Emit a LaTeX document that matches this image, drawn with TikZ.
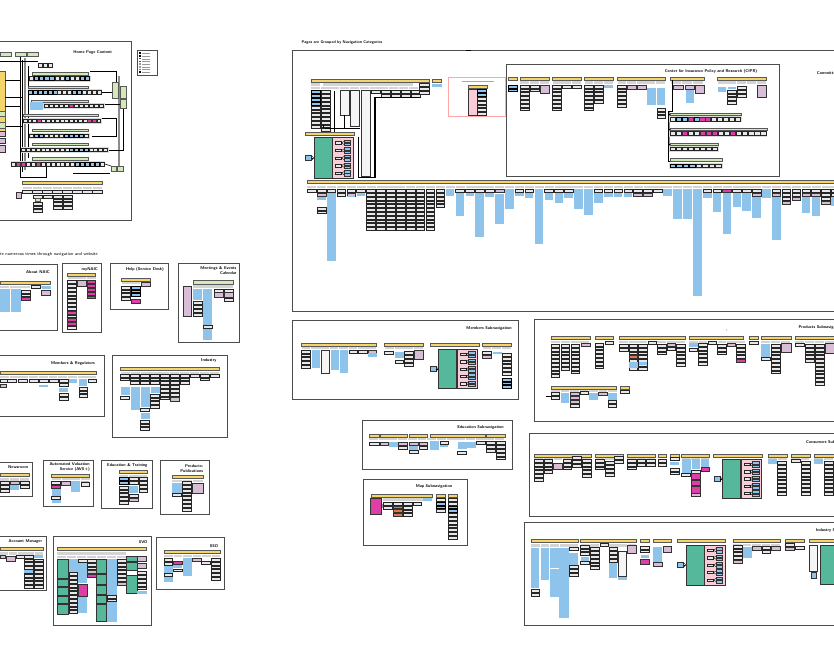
\documentclass[tikz,border=0pt]{standalone}
\usepackage{tikz}
\usetikzlibrary{calc}
\definecolor{sunny}{HTML}{F5D46A}
\definecolor{skyb}{HTML}{8EC3EB}
\definecolor{lilac}{HTML}{D7BDD6}
\definecolor{hotpk}{HTML}{DE3FA6}
\definecolor{leaf}{HTML}{D4E9B8}
\definecolor{teal1}{HTML}{55B89B}
\definecolor{rose}{HTML}{F8CDD7}
\definecolor{coral}{HTML}{E6734F}
\tikzset{
  panel/.style={draw=black!70, line width=0.6pt},
  ttl/.style={font=\fontsize{3.5}{4}\selectfont\sffamily\bfseries, inner sep=0pt, align=right},
  gbox/.style={draw=black!85, fill=black!9, line width=0.45pt},
  bcell/.style={fill=skyb},
  bsm/.style={draw=black!80, fill=skyb, line width=0.4pt},
  pbox/.style={draw=black!80, fill=lilac, line width=0.45pt},
  mbox/.style={draw=black!80, fill=hotpk, line width=0.45pt},
  obox/.style={draw=black!80, fill=coral, line width=0.45pt},
  wcol/.style={draw=black!80, fill=black!4, line width=0.45pt},
  sunbar/.style={draw=black!65, fill=sunny, line width=0.45pt},
  gnbar/.style={draw=black!65, fill=leaf, line width=0.4pt},
  hcell/.style={fill=black!17},
  tbox/.style={draw=black!80, fill=teal1, line width=0.5pt},
  pkbg/.style={draw=black!80, fill=rose, line width=0.5pt},
  cellg/.style={gbox},
  cellb/.style={bcell},
  cellm/.style={mbox},
  wire/.style={draw=black, line width=0.5pt},
}
% stack of n boxes: [style]{x}{y}{n}{w}
\newcommand{\stk}[5][gbox]{\foreach \k in {1,...,#4}{\draw[#1] ({#2},{#3+(\k-1)*3.8}) rectangle ++(#5,2.8);}}
\newcommand{\hdr}[4]{\foreach \k in {1,...,#3}{\fill[hcell] ({#1+(\k-1)*#4},{#2}) rectangle ++({#4-0.8},2.2);}}
\newcommand{\topbar}[3]{\draw[sunbar] (#1,#3) rectangle (#2,{#3+2.8});}
\newcommand{\cellrow}[4]{\edef\celllist{#4}\foreach \c [count=\k from 0] in \celllist {\draw[cell\c] ({#1+\k*#3},{#2}) rectangle ++({#3-0.9},3.6);}}
\newcommand{\navrow}[8]{%
  \fill[black!14] ({#4-0.8},{#6-0.8}) rectangle ({#5+0.5},{#6+5.2});
  \draw[gnbar] (#2,#1) rectangle (#3,{#1+2.2});
  \cellrow{#4}{#6}{#7}{#8}}
\newcommand{\tpgroup}[3]{%
  \draw[tbox] (#1,#2) rectangle ++(18,#3);
  \draw[pkbg] ({#1+18.6},#2) rectangle ++(20.5,#3);
  \foreach \k in {0,...,4}{
    \pgfmathsetmacro\py{#2+4+\k*(#3-8)/4.3}
    \draw[gbox] ({#1+21.5},\py) rectangle ++(6,2.4);
    \draw[bsm] ({#1+30},{\py-1.6}) rectangle ++(6.5,2.4);
    \draw[bsm] ({#1+30},{\py+1.6}) rectangle ++(6.5,2.4);
    \draw[line width=0.3pt] ({#1+27.5},{\py+1.2}) -- ({#1+30},{\py-0.4});
    \draw[line width=0.3pt] ({#1+27.5},{\py+1.2}) -- ({#1+30},{\py+2.8});}
  \draw[bsm] ({#1-8.5},{#2+#3/2-3}) rectangle ++(6,5.5);
  \draw[line width=0.4pt, ->] ({#1-2.5},{#2+#3/2}) -- (#1,{#2+#3/2});}

\begin{document}
\begin{tikzpicture}[x=0.03cm, y=-0.03cm]
  %%%%% START %%%%%
  \useasboundingbox (0,0) rectangle (834,653);
  \clip (0,0) rectangle (834,653);

  %%%%% HOME PAGE %%%%%
  \draw[panel] (-3,41.7) rectangle (131.7,220);
  \node[ttl, anchor=east] (home) at (112.3,52.3) {Home Page Content};
  \draw[panel, line width=0.4pt] (137.7,50.7) rectangle (157.7,75);
  \foreach \k/\c in {0/black,1/black,2/black!70,3/black!70,4/black!40,5/black!40,6/hotpk,7/black}{
    \fill[\c] (139.3,{52.5+\k*2.7}) rectangle ++(1.6,1.6);
    \draw[black!40, line width=0.2pt] (142,{53.3+\k*2.7}) -- ++(8,0);}

  \draw[gnbar] (0,52.7) rectangle (11.7,56);
  \draw[gnbar] (15,52.7) rectangle (26.7,56);
  \draw[gnbar] (27.3,52.7) rectangle (38.3,56);
  \cellrow{38.3}{63.5}{5}{g,g,g}
  \draw[sunbar] (-2,71.7) rectangle (5,133.3);

  \draw[black!45, line width=1pt] (25,58) -- (25,170);
  \draw[black!45, line width=1pt] (119,76) -- (119,170);
  \draw[wire] (0,61.7) -- (38,61.7);
  \draw[wire] (20,57) -- (20,177) -- (46.7,177) -- (46.7,166.7);
  \draw[wire] (22.7,60) -- (22.7,172);
  \draw[wire, line width=0.35pt] (28,66) -- (28,158);
  \draw[wire] (5,80) -- (20,80);
  \draw[wire] (5,97) -- (22.7,97);
  \draw[wire] (5,106) -- (20,106);
  \draw[wire] (5,126) -- (22.7,126);
  \draw[wire] (90,71.7) -- (116.7,71.7) -- (116.7,82.7);
  \draw[wire] (101.7,92) -- (112.7,92);
  \draw[wire] (101.7,104) -- (120.7,104);
  \draw[wire] (100,118) -- (116.7,118) -- (116.7,136.7) -- (92,136.7);
  \draw[wire] (108.3,150) -- (123.3,150) -- (123.3,108.3);
  \draw[wire] (105,164) -- (111,166);
  \draw[wire] (73,173.3) -- (110,173.3);

  \navrow{72.7}{32.3}{88.3}{29.3}{90.5}{76.7}{5.1}{g,b,b,b,b,g,g,b,g,g,b,b}
  \navrow{86}{28.3}{88.3}{28.3}{101.8}{90.3}{4.9}{b,b,b,b,b,b,g,g,g,b,b,g,g,g,g}
  \navrow{100}{31.7}{88.3}{44}{104}{103.8}{5}{g,g,g,g,g,m,g,g,g,g,g,g}
  \fill[bcell] (30,102.5) rectangle (43,110.5);
  \navrow{114}{23.3}{98}{23.3}{101.5}{118.8}{4.6}{g,g,g,m,g,g,g,g,g,g,g,g,g,g,m,m,g}
  \navrow{129}{32.3}{88.3}{29.3}{89.3}{133.8}{5}{g,b,b,g,g,g,g,b,b,b,b,g}
  \navrow{143.3}{32.3}{88.3}{21.7}{108}{147.8}{4.8}{g,g,g,g,g,g,g,g,g,g,b,b,b,b,g,g,g,g}
  \navrow{157.7}{32.3}{88.3}{11.7}{104.8}{162.2}{4.9}{g,m,m,g,g,m,g,g,g,g,g,g,g,b,b,b,b,b,g}

  \draw[gnbar] (112.7,82.7) rectangle (118.3,98.3);
  \draw[gnbar] (120.7,86.7) rectangle (126.7,98.3);
  \draw[gnbar] (120.7,99.3) rectangle (126.7,108.3);
  \draw[gnbar] (111,166) rectangle (116.7,171.7);
  \draw[gnbar] (117.7,166) rectangle (123.3,171.7);
  \draw[gnbar] (-1,111.7) rectangle (5,116.7);
  \draw[gnbar] (-1,122.7) rectangle (5,128.3);
  \draw[pbox] (-1,131) rectangle (5,136.7);
  \draw[pbox] (-1,138.3) rectangle (5,143.3);
  \draw[pbox] (-1,145) rectangle (5,152.7);

  \topbar{22.7}{102.7}{181.7}
  \hdr{22.7}{186.7}{8}{10}
  \foreach \x in {22.7,32.7,42.7,52.7,62.7,72.7,82.7,92.7}{\stk{\x}{190.7}{1}{9.2}}
  \draw[pbox] (16.7,192.7) rectangle (21.7,198.3);
  \stk{33.3}{195}{1}{9.2}
  \draw[gnbar] (35,198.3) rectangle (40,201.7);
  \stk{33.3}{202}{3}{9.2}
  \stk{43.3}{195}{1}{9.2}
  \stk{53.3}{195}{4}{9.2}
  \stk{63.3}{195}{4}{9.2}

  %%%%% NOTE AND SMALL PANELS %%%%%
  \node[ttl, anchor=west, font=\fontsize{3.7}{4.4}\selectfont\sffamily] (dupnote) at (0,254) {te numerous times through navigation and website};

  \draw[panel] (-3,264) rectangle (57.7,330);
  \node[ttl, anchor=east] (about) at (50,271.7) {About NAIC};
  \topbar{0}{50.7}{281.7}
  \hdr{0}{285.7}{5}{10.2}
  \fill[bcell] (0,289.3) rectangle (10,311.7);
  \fill[bcell] (11,289.3) rectangle (20.7,311.7);
  \stk{21.7}{290}{2}{9}
  \draw[mbox] (21.7,297.3) rectangle (30.7,300);
  \stk{31.7}{285.7}{1}{9}
  \fill[bcell] (41.7,285.7) rectangle (50.7,289);
  \draw[pbox] (41.7,290) rectangle (50.7,295);

  \draw[panel] (62.3,263.3) rectangle (101,332.7);
  \node[ttl, anchor=east] (mynaic) at (98,269.3) {myNAIC};
  \topbar{67.7}{95.7}{273.3}
  \hdr{67.7}{277.3}{3}{9.6}
  \stk{67.7}{280.7}{13}{8.3}
  \draw[mbox] (67.7,311.1) rectangle ++(8.3,2.8);
  \draw[mbox] (67.7,318.7) rectangle ++(8.3,2.8);
  \draw[mbox] (67.7,322.5) rectangle ++(8.3,2.8);
  \draw[pbox] (77.3,280.7) rectangle (86,286);
  \stk[mbox]{87.3}{280.7}{5}{8.4}

  \draw[panel] (110,263.3) rectangle (168.3,309.3);
  \node[ttl, anchor=east] (help) at (164,269.3) {Help (Service Desk)};
  \topbar{121.7}{150}{278.3}
  \hdr{121.7}{282.3}{3}{9.6}
  \stk{121.7}{286}{4}{9}
  \stk[bcell]{131.7}{286}{3}{8.3}
  \draw[mbox] (131.7,299.3) rectangle (140,303.3);
  \draw[pbox] (141,282.7) rectangle (150,286.7);

  \draw[panel] (178.3,263.3) rectangle (239.3,342.7);
  \node[ttl, anchor=east] (meet) at (236.7,270.8) {Meetings \& Events\\Calendar};
  \draw[gnbar] (193.3,280.7) rectangle (233.3,284);
  \hdr{193.3}{285.5}{4}{10}
  \draw[pbox] (183.3,286) rectangle (191.7,316.7);
  \fill[bcell] (193.3,289.3) rectangle (202.3,300);
  \stk{193.3}{301.7}{4}{9}
  \fill[bcell] (203.3,289.3) rectangle (212.3,340);
  \stk{203.3}{325}{1}{9}
  \stk{214.3}{289.3}{1}{9}
  \draw[pbox] (214.3,292.7) rectangle (223.3,297.3);
  \stk{224.3}{289.3}{1}{9}
  \draw[pbox] (224.3,292.7) rectangle (233.3,297.3);
  \stk{224.3}{298.3}{1}{9}

  \draw[panel] (-3,355) rectangle (104.3,416);
  \node[ttl, anchor=east] (members) at (95,363.3) {Members \& Regulators};
  \topbar{0}{96.7}{371.7}
  \hdr{0}{376}{10}{9.7}
  \foreach \x in {0,7.3,18.3,29,39,49.3,59}{\stk{\x}{379.3}{1}{9}}
  \fill[bcell] (69,379.3) rectangle (77.3,382.7);
  \fill[bcell] (79,379.3) rectangle (87.3,386);
  \stk{88.3}{379.3}{1}{8.4}
  \draw[pbox] (0,384) rectangle (6.7,387.3);
  \fill[bcell] (39,385) rectangle (48.3,387.3);
  \stk{59}{383.5}{1}{9}
  \fill[bcell] (59,388) rectangle (68.3,391.7);
  \stk{59}{393.3}{2}{9}
  \stk{79}{387}{3}{8.4}

  \draw[panel] (112.3,355) rectangle (227.7,437.7);
  \node[ttl, anchor=east] (industry) at (216.7,360.7) {Industry};
  \topbar{120.7}{219.3}{367.7}
  \hdr{120.7}{371.5}{10}{9.9}
  \stk{120.7}{374}{2}{9}
  \fill[bcell] (120.7,386.7) rectangle (129.7,395);
  \stk{120.7}{396}{1}{9}
  \stk{130.7}{374}{3}{9}
  \fill[bcell] (130.7,386.7) rectangle (139.7,410);
  \stk{140.7}{374}{3}{9}
  \fill[bcell] (140.7,387) rectangle (149.7,407);
  \stk{140.7}{408}{1}{9}
  \fill[bcell] (140.7,412.5) rectangle (149.7,419);
  \stk{140.7}{420}{3}{9}
  \stk{150.7}{374}{3}{9}
  \fill[bcell] (150.7,386.7) rectangle (159.7,393);
  \stk{150.7}{394}{4}{9}
  \stk{160.7}{374}{7}{9}
  \stk{170.7}{374}{6}{9}
  \draw[pbox] (170.7,397.5) rectangle ++(9,3.5);
  \stk{180.7}{374}{3}{9}
  \stk{190.7}{374}{1}{9}
  \stk{200.7}{374}{2}{9}
  \stk{210.7}{374}{1}{8.6}

  \draw[panel] (-3,462.7) rectangle (32.7,496.7);
  \node[ttl, anchor=east] (news) at (28.3,467.3) {Newsroom};
  \topbar{0}{29}{473.3}
  \hdr{0}{478.3}{3}{9.8}
  \stk{0}{481.7}{3}{9.3}
  \draw[pbox] (10,481.7) rectangle (19.3,484);
  \fill[bcell] (10,485) rectangle (19.3,490);
  \stk{20}{481.7}{2}{9}

  \draw[panel] (43.3,460.7) rectangle (93.3,506);
  \node[ttl, anchor=east] (avs) at (90,467.2) {Automated Valuation\\Service (AVS+)};
  \topbar{51.7}{89.3}{474}
  \hdr{51.7}{478}{4}{9.8}
  \stk{51.7}{481.7}{1}{9}
  \draw[mbox] (51.7,485.7) rectangle (60.7,488.3);
  \fill[bcell] (51.7,489.3) rectangle (60.7,496.2);
  \stk{51.7}{496.7}{1}{9}
  \fill[bcell] (51.7,500) rectangle (60.7,503.3);
  \draw[pbox] (61.7,481.7) rectangle (70.7,485);
  \fill[bcell] (71,480.5) rectangle (80,491.7);
  \fill[bcell] (81,480.5) rectangle (89.3,482.5);
  \draw[gbox] (81,482.5) rectangle (89.3,486);

  \draw[panel] (101.7,460.7) rectangle (152.7,508.3);
  \node[ttl, anchor=east] (edu) at (147.7,465) {Education \& Training};
  \topbar{119}{147.7}{470.7}
  \hdr{119}{474.5}{3}{9.7}
  \stk[bcell]{119}{477.7}{2}{9.3}
  \stk{119}{486}{5}{9.3}
  \stk{129}{477.7}{2}{9.3}
  \fill[bcell] (129,485.7) rectangle (138.3,493.3);
  \stk{129}{494}{1}{9.3}
  \draw[pbox] (129,498.3) rectangle (138.3,501.7);
  \stk{139}{477.7}{4}{8.7}

  \draw[panel] (160.7,460.7) rectangle (209,514);
  \node[ttl, anchor=east] (pubs) at (203.3,468.8) {Products:\\Publications};
  \topbar{172.3}{203.3}{475.5}
  \hdr{172.3}{479.5}{3}{10.4}
  \fill[bcell] (172.3,483.3) rectangle (181.7,492.7);
  \stk{172.3}{493.3}{1}{9.4}
  \stk{182.7}{481.5}{8}{9}
  \draw[pbox] (192.7,483.3) rectangle (203.3,493.3);

  \draw[panel] (-3,536.7) rectangle (46.7,590.7);
  \node[ttl, anchor=east] (acct) at (42.3,541.7) {Account Manager};
  \topbar{0}{43.3}{547.3}
  \hdr{0}{552.3}{5}{8.8}
  \draw[pbox] (0,555) rectangle (5,558.3);
  \draw[pbox] (6,556.7) rectangle (15,561.7);
  \stk{16}{555}{1}{8}
  \stk{24.3}{555}{9}{9}
  \fill[bcell] (24.3,570) rectangle (33.3,573.3);
  \fill[bcell] (34,555) rectangle (43.3,557.8);
  \stk{34}{558.8}{8}{9.3}

  \draw[panel] (53.3,536.7) rectangle (151,625.7);
  \node[ttl, anchor=east] (svo) at (147.7,541.7) {SVO};
  \topbar{57.3}{146.7}{547.3}
  \fill[hcell] (57.3,552.3) rectangle (126,555);
  \hdr{57.3}{556}{9}{9.9}
  \foreach \a/\b in {559.3/578.3,579.3/586.7,587.3/595,596/603.3,604/614}{\draw[tbox] (57.3,\a) rectangle (68.3,\b);}
  \fill[bcell] (69,559.3) rectangle (77.7,571.7);
  \stk{69}{572.7}{11}{8.7}
  \stk{78.3}{559.3}{1}{9}
  \fill[bcell] (78.3,563.3) rectangle (87.3,583.3);
  \draw[mbox] (78.3,584) rectangle (87.3,596.7);
  \fill[bcell] (78.3,597) rectangle (87.3,613.3);
  \stk{87.7}{559.3}{3}{9}
  \draw[pbox] (87.7,570.5) rectangle ++(9,2.8);
  \draw[mbox] (87.7,574.3) rectangle ++(9,3.3);
  \foreach \a/\b in {559.3/573.3,574.3/584.3,585.3/594.3,595.3/603.3,604.3/621.7}{\draw[tbox] (96.7,\a) rectangle (106.7,\b);}
  \fill[bcell] (107.3,559.3) rectangle (116.7,621.7);
  \stk{107.3}{595}{2}{9.3}
  \stk{117.3}{559.3}{6}{8.7}
  \draw[pbox] (117.3,582.5) rectangle ++(8.7,3);
  \foreach \a/\b in {556/561.7,562.7/570.7,575/593.3}{\draw[tbox] (126.7,\a) rectangle (137.3,\b);}
  \draw[pbox] (137.3,556) rectangle (146.7,561.7);
  \draw[pbox] (137.3,563) rectangle (146.7,568);
  \stk{137.3}{571.7}{5}{9.4}
  \fill[bcell] (137.3,591) rectangle (146.7,594);

  \draw[panel] (156.7,537.3) rectangle (224.3,589.3);
  \node[ttl, anchor=east] (sso) at (218.3,546) {SSO};
  \topbar{164}{220}{550.7}
  \hdr{164}{555}{6}{9.5}
  \stk{164}{558.3}{2}{8.7}
  \fill[bcell] (164,566) rectangle (172.7,572.7);
  \stk{164}{573.3}{1}{8.7}
  \fill[bcell] (164,577.3) rectangle (172.7,581.7);
  \draw[mbox] (173.3,561.7) rectangle (182.3,564.5);
  \fill[bcell] (173.3,565) rectangle (182.3,568.3);
  \stk{173.3}{568.8}{1}{9}
  \fill[bcell] (183.3,557.7) rectangle (192.3,576);
  \draw[pbox] (192.7,558.3) rectangle (201.7,560.9);
  \stk{201.7}{561.7}{1}{9}
  \stk{211.7}{558.3}{6}{8.3}

  %%%%% NAVIGATION CATEGORIES %%%%%
  \node[ttl, anchor=west, font=\fontsize{3.35}{4}\selectfont\sffamily\bfseries] (grouped) at (301.5,43) {Pages are Grouped by Navigation Categories};
  \draw[panel] (292.8,50.7) rectangle (845,311);
  \draw[line width=0.7pt] (466,50.3) -- (471,50.3);

  \topbar{310.8}{428.8}{79.3}
  \fill[hcell] (310.8,83.3) rectangle (320,86);
  \fill[hcell] (322.5,83.3) rectangle (413,86);
  \hdr{310.8}{87}{11}{9.8}
  \stk[bcell]{310.8}{90.7}{4}{9}
  \stk{310.8}{106}{6}{9}
  \stk{320.8}{90.7}{11}{9}
  \draw[wcol] (340,90.7) rectangle (349,115);
  \draw[wcol] (350,90.7) rectangle (359,126.7);
  \draw[wcol] (361,90.7) rectangle (370,176);
  \foreach \x in {371,381,391,401,411}{\stk{\x}{90.7}{1}{9}}
  \foreach \x in {381,391,401,411}{\stk{\x}{94.2}{1}{9}}
  \stk{419.5}{83.5}{3}{9.3}
  \draw[wire, line width=0.35pt] (334.3,90.7) -- (334.3,128.3);
  \draw[wire, line width=0.35pt] (344.3,115) -- (344.3,128.3);
  \draw[wire, line width=0.35pt] (323.3,125) -- (323.3,128.3);
  \draw[line width=1pt] (325,128.3) -- (360,128.3);
  \draw[line width=1pt] (334.3,128.3) -- (334.3,132.7);
  \draw[line width=1pt] (420,97.3) -- (375,97.3) -- (375,177.3) -- (358.3,177.3) -- (358.3,137);

  \topbar{432}{441.6}{79.3}
  \fill[bcell] (432,84.5) rectangle (441.6,87.5);

  \draw[draw=red!35, line width=0.5pt] (447.9,77.7) rectangle (505.1,116.7);
  \draw[black!35, line width=0.4pt] (462,81.5) -- (494,81.5);
  \topbar{468}{487}{85.5}
  \draw[pkbg] (468,89.7) rectangle (477,115.5);
  \stk[bcell]{477.7}{89.7}{2}{8.7}
  \stk{477.7}{97.3}{5}{8.7}

  \tpgroup{314}{137.7}{40.6}
  \topbar{305}{354.3}{132.7}

  %%%%% CIPR %%%%%
  \draw[panel] (506,64) rectangle (779,176);
  \node[ttl, anchor=center] (cipr) at (711,71) {Center for Insurance Policy and Research (CIPR)};
  \node[ttl, anchor=west] (committees) at (816.7,73.3) {Committees};

  \topbar{508}{517}{77.7}
  \stk[bcell]{508}{85}{2}{9}
  \topbar{520}{549}{77.7}
  \hdr{520}{81.5}{3}{9.9}
  \stk{520}{85}{7}{9}
  \stk{530}{85}{2}{9}
  \draw[pbox] (540,85) rectangle (549,93);
  \topbar{552.7}{581.5}{77.7}
  \hdr{552.7}{81.5}{3}{9.6}
  \stk{552.7}{85}{7}{9}
  \stk{562.5}{85}{1}{9}
  \stk{572.3}{85}{1}{9}
  \topbar{584.6}{613.4}{77.7}
  \hdr{584.6}{81.5}{3}{9.6}
  \stk{584.6}{85}{7}{9}
  \stk{594.4}{85}{5}{9}
  \fill[bcell] (604.2,85) rectangle (613.4,88);
  \topbar{617.5}{665.4}{77.7}
  \hdr{617.5}{81.5}{5}{9.6}
  \stk{617.5}{85}{6}{9}
  \draw[pbox] (627.3,85) rectangle (636.3,89);
  \draw[pbox] (637,85) rectangle (646,89);
  \fill[bcell] (647,88) rectangle (655.5,105);
  \fill[bcell] (656.5,88) rectangle (665.4,105);
  \stk{657}{108}{3}{8.4}
  \topbar{670.6}{704}{77.7}
  \hdr{670.6}{81.5}{3}{11}
  \draw[pbox] (673,85) rectangle (683,89);
  \draw[pbox] (685.7,85) rectangle (694,89);
  \fill[bcell] (685.7,90) rectangle (694,103);
  \draw[pbox] (695.7,85) rectangle (704,93);
  \topbar{717.5}{766.4}{77.7}
  \hdr{717.5}{81.5}{5}{9.8}
  \fill[bcell] (717.5,86.7) rectangle (726,92);
  \fill[bcell] (727.5,86.7) rectangle (736,89);
  \stk{727.7}{90}{4}{8.3}
  \stk{737.5}{86.7}{3}{8.3}
  \draw[pbox] (757,85) rectangle (766.4,97);

  \draw[black!45, line width=1pt] (669.3,112) -- (669.3,146);
  \draw[line width=0.8pt] (672.7,80) -- (672.7,111.7) -- (668,111.7) -- (668,161.5) -- (670,161.5);
  \foreach \y in {114.3,129,144} {\draw[wire] (668,\y) -- (670,\y);}
  \navrow{113.3}{670}{741}{670}{741.4}{117.3}{5.95}{g,b,b,m,b,m,m,g,g,g,g,g}
  \navrow{128}{670}{767}{670}{766.8}{131.7}{6.05}{g,g,m,g,g,m,m,m,g,g,m,g,g,g,g,g}
  \navrow{143}{670}{718}{670}{718}{147}{6}{g,g,g,g,g,g,g,g}
  \navrow{158.7}{670}{722}{670}{722}{164}{6.5}{b,b,b,b,g,g,g,g}

  %%%%% LONG ROW %%%%%
  \topbar{307.3}{845}{180.7}
  \hdr{307.3}{185.7}{55}{9.89}
  \foreach \i/\nb/\bl/\pk in {0/1/0/0,1/1/200/1,2/1/261/0,3/2/0/0,4/1/196/1,5/1/196/0,
      6/11/0/0,7/11/0/0,8/11/0/0,9/11/0/0,10/11/0/0,11/11/0/0,12/11/0/0,13/5/0/0,
      14/0/196/0,15/1/216/0,16/1/196/0,17/1/237/0,18/1/197/0,19/0/224/1,20/0/209/0,
      21/1/196/0,22/1/198/0,23/0/244/0,24/1/200/0,25/1/203/0,26/1/198/0,27/0/209/0,
      28/0/215/0,29/1/203/0,30/1/197/0,31/1/197/0,32/1/197/0,33/1/0/1,34/1/0/1,35/1/0/0,
      36/0/196/0,37/0/219/0,38/0/219/0,39/0/296/0,40/1/198/0,41/1/212/0,42/0/234/0,
      43/1/207/0,44/1/211/0,45/1/218/1,46/0/198/0,47/1/240/1,48/3/0/1,49/2/0/1,
      50/1/213/1,51/1/216/1,52/3/0/1,53/2/206/0,54/2/215/0}{
    \pgfmathsetmacro\cx{307.3+9.89*\i}
    \pgfmathsetmacro\cy{189.5+\nb*3.8+\pk*4.2}
    \ifnum\nb>0 \stk{\cx}{189.5}{\nb}{8.6}\fi
    \ifnum\pk>0 \draw[pbox] (\cx,{189.5+\nb*3.8}) rectangle ++(8.6,3.2);\fi
    \ifnum\bl>0 \fill[bcell] (\cx,\cy) rectangle ({\cx+8.6},\bl);\fi
  }
  \draw[mbox] (722.7,189.5) rectangle ++(8.6,3.2);
  \stk{317.2}{207}{2}{8.6}

  %%%%% MEMBERS SUBNAVIGATION %%%%%
  \draw[panel] (292.8,320.7) rectangle (518.3,399.3);
  \node[ttl, anchor=east] (memsub) at (512,328) {Members Subnavigation};
  \topbar{301.5}{376}{343.3}
  \hdr{301.5}{347}{8}{9.4}
  \stk{301.5}{350}{5}{8.3}
  \fill[bcell] (311.5,350) rectangle (320.2,368.3);
  \draw[wcol] (321,350) rectangle (329,373.3);
  \fill[bcell] (330.6,350) rectangle (338.6,370);
  \fill[bcell] (339.6,350) rectangle (348,373);
  \stk{349}{350}{1}{8.7}
  \stk{358.7}{350}{1}{8.3}
  \draw[pbox] (368,350) rectangle (376.7,352.8);
  \fill[bcell] (368,353.3) rectangle (376.7,356.7);
  \topbar{384.7}{423.6}{343.3}
  \hdr{384.7}{347}{4}{9.8}
  \stk{384.7}{351.7}{1}{8.7}
  \fill[bcell] (395,351.7) rectangle (403.5,358.3);
  \stk{395}{360}{1}{8.5}
  \stk{404.5}{351.7}{4}{8.7}
  \draw[pbox] (414,350.7) rectangle (423,359.3);
  \topbar{429.8}{479}{343.3}
  \tpgroup{438.5}{349.3}{39.4}
  \topbar{482.6}{511.4}{343.3}
  \hdr{482.6}{347}{3}{9.6}
  \stk{482.6}{351.7}{1}{8.6}
  \draw[pbox] (482.6,355) rectangle (491.2,358.3);
  \fill[bcell] (492.6,351.7) rectangle (501.7,354);
  \stk{502.4}{353.3}{6}{9}
  \stk[bcell]{502.4}{378}{3}{9}

  %%%%% PRODUCTS SUBNAVIGATION %%%%%
  \draw[panel] (534,319) rectangle (845,421.7);
  \node[ttl, anchor=west] (prodsub) at (798.3,327.3) {Products Subnavigation};
  \fill[black] (726.7,330) circle (0.4);
  \topbar{551}{590}{336.7}
  \hdr{551}{341}{4}{9.8}
  \stk{551}{344.3}{9}{8.6}
  \stk{561}{344.3}{7}{8.6}
  \stk{571}{344.3}{8}{8.6}
  \draw[pbox] (581,343.3) rectangle (590,346.7);
  \topbar{595}{613.3}{336.7}
  \stk{595}{343}{7}{8.6}
  \stk{605}{341.7}{1}{8.3}
  \topbar{619.3}{685}{336.7}
  \hdr{619.3}{341}{7}{9.5}
  \stk{619.3}{344.3}{2}{8.7}
  \stk{629}{344.3}{7}{8.7}
  \draw[obox] (629,355.7) rectangle ++(8.7,2.8);
  \fill[bcell] (629,361.7) rectangle (637.7,368.3);
  \stk{638.7}{344.3}{7}{8.6}
  \fill[bcell] (638.7,361.7) rectangle (647.3,365);
  \stk{648.3}{341.7}{1}{8.4}
  \stk{657.7}{344.3}{3}{8.3}
  \draw[pbox] (667,343.3) rectangle (675.3,346.7);
  \stk{667}{347.5}{1}{8.3}
  \stk{676.7}{344.3}{6}{8.3}
  \topbar{689.3}{743.3}{336.7}
  \hdr{689.3}{341}{6}{9.4}
  \fill[bcell] (689.3,343.3) rectangle (697.7,346.7);
  \stk{689.3}{348.3}{1}{8.4}
  \stk{698.7}{343.3}{6}{8.3}
  \stk{708}{341.7}{1}{8.7}
  \stk{717.7}{344.3}{3}{8.3}
  \draw[pbox] (727,343.3) rectangle (735.7,346.7);
  \stk{736.7}{344.3}{4}{8.3}
  \draw[mbox] (736.7,359.5) rectangle ++(8.3,2.8);
  \topbar{749.3}{758.3}{336.7}
  \stk{749.3}{341}{1}{9}
  \topbar{761}{791}{336.7}
  \hdr{761}{341}{3}{10}
  \fill[bcell] (761,344.3) rectangle (770,356.7);
  \stk{761}{357.5}{1}{9}
  \stk{771.3}{344.3}{8}{8.7}
  \draw[pbox] (781.7,343.3) rectangle (791.7,352.3);
  \topbar{795}{845}{336.7}
  \hdr{795}{341}{5}{10}
  \stk{795}{343.3}{1}{9}
  \stk{805.3}{344.3}{5}{8.7}
  \stk{815.7}{344.3}{11}{8.3}
  \draw[pbox] (825.3,343.3) rectangle (834,353.3);
  \topbar{551}{616.7}{386}
  \hdr{551}{390}{7}{9.5}
  \stk{551}{392.7}{2}{8.6}
  \draw[wire, line width=0.3pt] (546,396) -- (551,396);
  \fill[bcell] (560.7,392.7) rectangle (569.3,403.3);
  \stk[pbox]{570.7}{392.7}{3}{8.6}
  \stk{570.7}{404}{1}{8.6}
  \stk{580}{391}{1}{8.3}
  \fill[bcell] (589.3,392.7) rectangle (597.7,400);
  \draw[pbox] (598.7,392.7) rectangle (607.3,395.7);
  \fill[bcell] (608.3,392.7) rectangle (616.7,400);
  \stk{608.3}{400.7}{2}{8.4}
  \topbar{620.7}{629}{386}
  \stk{620.7}{390}{1}{8.3}

  %%%%% EDUCATION SUBNAVIGATION %%%%%
  \draw[panel] (362.3,420.7) rectangle (512.3,469);
  \node[ttl, anchor=east] (edusub) at (504,427.3) {Education Subnavigation};
  \topbar{369}{379}{434.3}
  \topbar{380}{407.7}{434.3}
  \topbar{409.3}{427.7}{434.3}
  \topbar{430.3}{485}{434.3}
  \topbar{486.7}{505}{434.3}
  \hdr{369}{438}{14}{9.7}
  \stk{369}{442.3}{1}{10}
  \draw[pbox] (380,442.3) rectangle (388.3,445);
  \fill[bcell] (389.3,442.3) rectangle (397.7,446.7);
  \draw[pbox] (398.7,442.3) rectangle (407.7,445);
  \stk{398.7}{446}{1}{9}
  \draw[pbox] (409.3,442.3) rectangle (418.3,445);
  \draw[pbox] (419.3,442.3) rectangle (427.7,445);
  \stk{419.3}{446}{1}{8.4}
  \fill[bcell] (409.3,446) rectangle (418.3,450);
  \stk{409.3}{450.7}{1}{9}
  \fill[bcell] (430.3,441) rectangle (439,450);
  \stk{440}{441.7}{1}{8.3}
  \fill[bcell] (440,445) rectangle (448.3,447.3);
  \fill[bcell] (457.7,442.3) rectangle (466.7,449.3);
  \stk{457.7}{451}{1}{9}
  \fill[bcell] (467,442.3) rectangle (475.7,448.3);
  \stk{476.7}{441.7}{1}{8.3}
  \stk{486.7}{441.7}{3}{8.3}
  \stk{496}{441.7}{5}{9}

  %%%%% MAP SUBNAVIGATION %%%%%
  \draw[panel] (363.3,479.3) rectangle (467.3,545);
  \node[ttl, anchor=east] (mapsub) at (452.3,486) {Map Subnavigation};
  \topbar{371.7}{432.3}{494}
  \draw[mbox] (370,498.3) rectangle (381.7,514.3);
  \draw[wire, line width=0.3pt] (381.7,506) -- (383.3,504) (381.7,506) -- (383.3,508);
  \hdr{383.3}{498.3}{4}{10}
  \fill[bcell] (423.3,498.3) rectangle (432.3,501);
  \stk{383.3}{502.3}{2}{9}
  \stk{393.3}{502.3}{1}{9}
  \stk[obox]{393.3}{505.9}{3}{9}
  \stk{403.3}{502.3}{4}{9}
  \stk{413.3}{502.3}{1}{8.4}
  \topbar{436}{445.7}{494}
  \stk{436}{498.3}{1}{9.7}
  \stk[bcell]{436}{502.1}{2}{9.7}
  \stk{436}{509.7}{1}{9.7}
  \topbar{448.3}{457.7}{494}
  \stk{448.3}{498.3}{2}{9.4}
  \stk[bcell]{448.3}{505.9}{2}{9.4}
  \stk{448.3}{513.5}{7}{9.4}

  %%%%% CONSUMERS SUBNAVIGATION %%%%%
  \draw[panel] (529,433.3) rectangle (845,516);
  \node[ttl, anchor=west] (conssub) at (806,442.3) {Consumers Subnavigation};
  \topbar{534.3}{591}{454}
  \hdr{534.3}{457.5}{6}{9.6}
  \stk{534.3}{459.3}{6}{9}
  \stk{544.3}{459.3}{4}{8.4}
  \draw[pbox] (553.7,463.3) rectangle (562.3,469.3);
  \stk{563.3}{459.3}{3}{8.4}
  \stk{572.7}{456.7}{3}{9}
  \stk{582.3}{459.3}{5}{8.7}
  \topbar{595.7}{623.3}{454}
  \hdr{595.7}{457.5}{3}{9.4}
  \stk{595.7}{459.3}{3}{8.6}
  \stk{605.3}{461.7}{4}{8.6}
  \stk{614.7}{456.7}{2}{8.6}
  \topbar{627.3}{655.7}{454}
  \hdr{627.3}{457.5}{3}{9.6}
  \stk{627.3}{459.3}{3}{8.7}
  \stk{637}{459.3}{2}{8.7}
  \stk{646.7}{459.3}{2}{9}
  \topbar{658.3}{666.7}{454}
  \stk{658.3}{459.3}{2}{8.4}
  \topbar{670.3}{679}{454}
  \stk{670.3}{457.7}{1}{8.7}
  \fill[bcell] (670.3,461.7) rectangle (679,465);
  \stk{670.3}{468}{2}{8.7}
  \topbar{681.7}{709.3}{454}
  \hdr{681.7}{457.5}{3}{9.4}
  \fill[bcell] (681.7,459.3) rectangle (690.7,473.3);
  \stk{681.7}{473.7}{1}{9}
  \fill[bcell] (691.7,459.3) rectangle (700,469.3);
  \stk{691.7}{470}{1}{8.3}
  \foreach \a/\b in {473.7/479,479.8/485,485.8/493}{\draw[mbox] (691.7,\a) rectangle (700,\b);}
  \draw[pbox] (691.7,493.5) rectangle (700,496.7);
  \fill[bcell] (701,459.3) rectangle (709.3,466.7);
  \draw[mbox] (701,467.3) rectangle (709.3,471.7);
  \topbar{713.3}{762.3}{454}
  \tpgroup{722.3}{459.3}{39}
  \topbar{768.3}{787.7}{454}
  \hdr{768.3}{457.5}{2}{9.7}
  \fill[bcell] (768.3,459.3) rectangle (776.7,464);
  \stk{777.7}{461.7}{9}{9}
  \topbar{791}{810}{454}
  \hdr{791}{457.5}{2}{9.6}
  \stk{791}{459.3}{1}{9}
  \stk{801}{461.7}{9}{9}
  \topbar{814.3}{845}{454}
  \hdr{814.3}{457.5}{3}{9.8}
  \fill[bcell] (814.3,459.3) rectangle (823.3,464);
  \stk{824.3}{461.7}{9}{9}

  %%%%% INDUSTRY SUBNAVIGATION %%%%%
  \draw[panel] (524.3,522.7) rectangle (845,625);
  \node[ttl, anchor=west] (indsub) at (815.7,530) {Industry Subnavigation};
  \topbar{531}{578.3}{539.3}
  \hdr{531}{544.3}{5}{9.6}
  \fill[bcell] (531,547.7) rectangle (539.3,588.3);
  \stk{531}{589.3}{2}{8.3}
  \fill[bcell] (540.7,547.7) rectangle (549.3,580);
  \fill[bcell] (550,547.7) rectangle (559,568.3);
  \fill[bcell] (550,569.3) rectangle (559,596.7);
  \fill[bcell] (559.3,547.7) rectangle (568.7,618.3);
  \stk{569.3}{547.7}{1}{9}
  \fill[bcell] (569.3,553) rectangle (578.3,565);
  \stk{569.3}{565.5}{3}{9}
  \topbar{580.7}{636.7}{539.3}
  \hdr{580.7}{544.3}{6}{9.4}
  \stk{580.7}{545}{3}{8.6}
  \fill[bcell] (580.7,556.8) rectangle (589.3,560.5);
  \stk{580.7}{561}{1}{8.6}
  \stk{590}{547.7}{6}{9}
  \stk{600}{543.3}{1}{8.3}
  \stk{609}{547.7}{4}{8.3}
  \fill[bcell] (609,562.7) rectangle (617.3,578.3);
  \draw[wcol] (618.3,551.7) rectangle (626.7,576.7);
  \fill[bcell] (618.3,577.3) rectangle (626.7,580);
  \draw[pbox] (627.7,545) rectangle (636.7,553.3);
  \topbar{640.7}{649.3}{539.3}
  \stk{640.7}{546}{2}{8.6}
  \fill[bcell] (640.7,555) rectangle (649.3,558.3);
  \draw[mbox] (640.7,559.3) rectangle (649.3,564.3);
  \topbar{653.3}{671.7}{539.3}
  \fill[bcell] (653.3,546.7) rectangle (662.3,561.5);
  \draw[pbox] (653.3,562.3) rectangle (662.3,566.7);
  \draw[pbox] (663.3,546.7) rectangle (671.7,552.3);
  \topbar{677.3}{725.7}{539.3}
  \tpgroup{686}{545}{40}
  \topbar{733.3}{780}{539.3}
  \hdr{733.3}{543.5}{5}{9.4}
  \stk{733.3}{545}{4}{9}
  \draw[pbox] (733.3,560.5) rectangle (742.3,563.5);
  \fill[bcell] (743.3,546.7) rectangle (752.3,558.3);
  \draw[pbox] (752.7,546.7) rectangle (761.7,550);
  \stk{762.3}{546.7}{1}{8.4}
  \stk{762.3}{550.7}{1}{8.4}
  \draw[pbox] (771.7,546.7) rectangle (780,550);
  \topbar{785}{804}{539.3}
  \stk{785}{543.3}{1}{9}
  \draw[pbox] (785,547.3) rectangle (794,550.7);
  \stk{795}{546.7}{1}{9}
  \topbar{809.3}{845}{539.3}
  \draw[wcol] (809.3,545) rectangle (817.7,571.7);
  \draw[bsm] (811,572.7) rectangle (816.7,578.3);
  \draw[tbox] (820,545) rectangle (845,584);

  %%%%% END %%%%%
\end{tikzpicture}
\end{document}
